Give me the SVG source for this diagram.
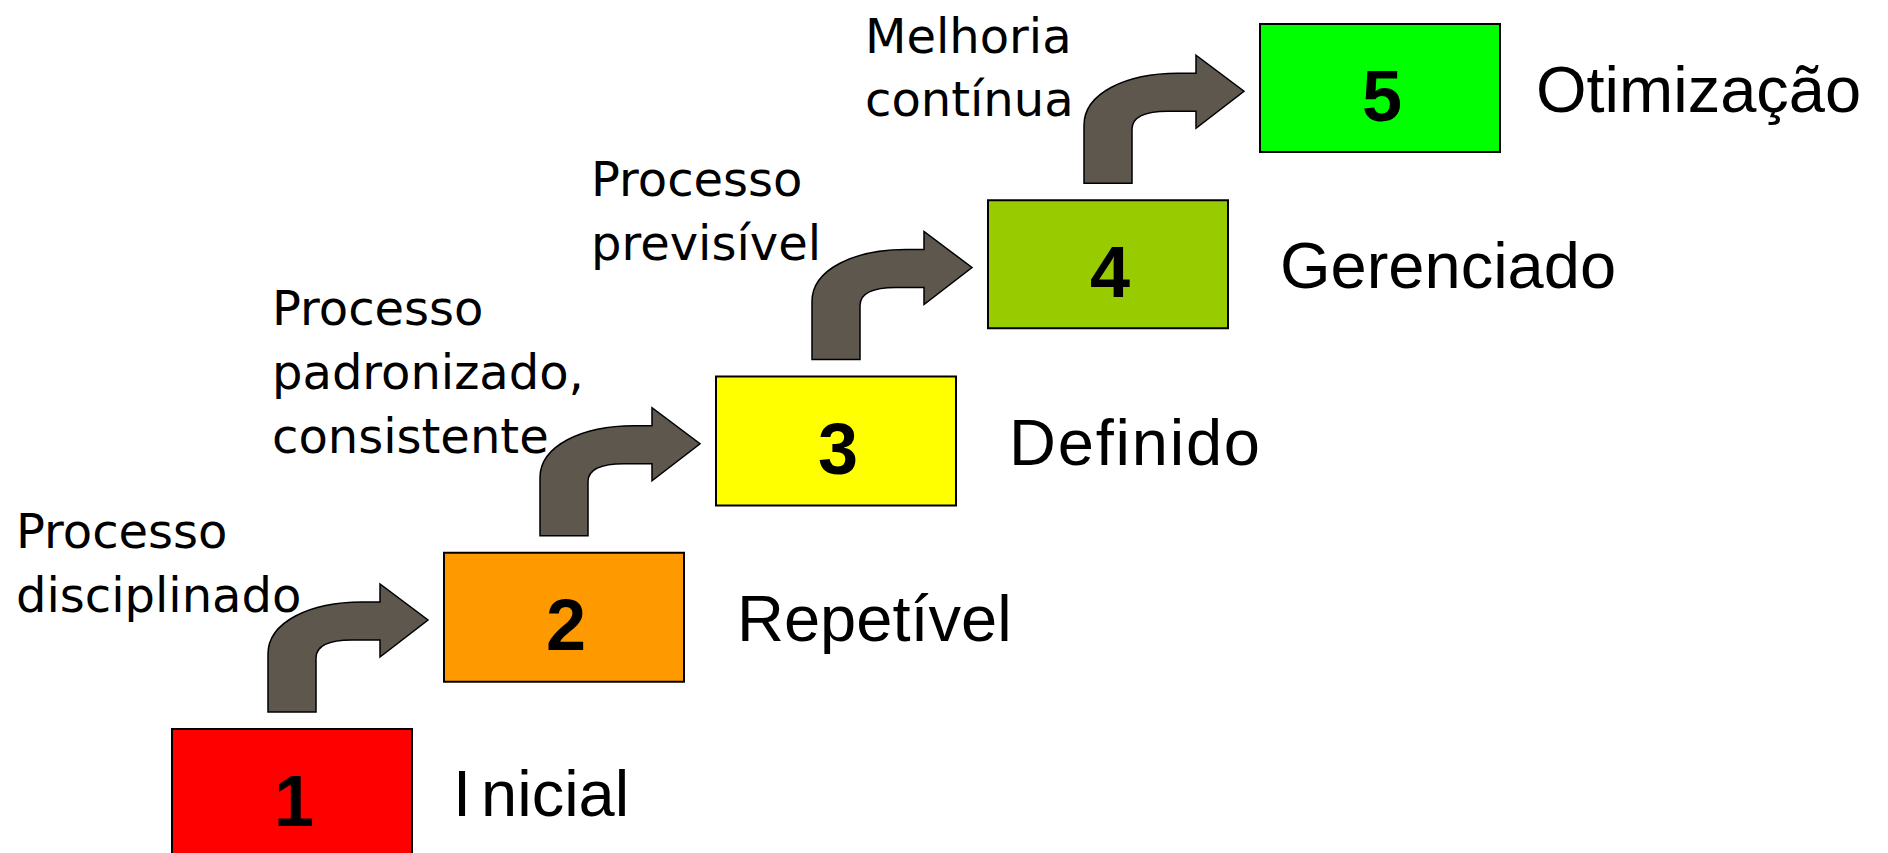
<svg xmlns="http://www.w3.org/2000/svg" xmlns:xlink="http://www.w3.org/1999/xlink" width="1888" height="853" viewBox="0 0 1888 853">
<style>
.box{stroke:#000;stroke-width:2}
.num{font-family:"Liberation Sans",Arial,sans-serif;font-weight:bold;font-size:72px;fill:#000;text-anchor:middle}
.lvl{font-family:"Liberation Sans",Arial,sans-serif;font-size:65px;fill:#000}
.note{font-family:"DejaVu Sans",Verdana,sans-serif;font-size:48px;fill:#000}
.arrow{fill:#5E574E;stroke:#000;stroke-width:1.5;stroke-linejoin:miter}
</style>
<defs>
<path id="arw" class="arrow" d="M 268 712 L 268 654 C 268 622 310 602 362 602 L 380 602 L 380 584 L 428 620 L 380 657 L 380 640 L 352 640 C 328 640 316 646 316 658 L 316 712 Z"/>
</defs>
<rect width="1888" height="853" fill="#fff"/>
<g id="connectors">
<use xlink:href="#arw" href="#arw"/>
<use xlink:href="#arw" href="#arw" transform="translate(272,-176.25)"/>
<use xlink:href="#arw" href="#arw" transform="translate(544,-352.5)"/>
<use xlink:href="#arw" href="#arw" transform="translate(816,-528.75)"/>
</g>
<g id="level1">
<rect class="box" x="172" y="729" width="240" height="129" fill="#FF0000"/>
<text class="num" x="294" y="826">1</text>
<text class="lvl" x="453" y="816">I<tspan dx="10">nicial</tspan></text>
</g>
<g id="level2">
<rect class="box" x="444" y="552.75" width="240" height="129" fill="#FF9900"/>
<text class="num" x="566" y="649.75">2</text>
<text class="lvl" x="737" y="641">Repetível</text>
</g>
<g id="level3">
<rect class="box" x="716" y="376.5" width="240" height="129" fill="#FFFF00"/>
<text class="num" x="838" y="473.5">3</text>
<text class="lvl" x="1009" y="465" textLength="251" lengthAdjust="spacing">Definido</text>
</g>
<g id="level4">
<rect class="box" x="988" y="200.25" width="240" height="128" fill="#99CC00"/>
<text class="num" x="1110" y="297.25">4</text>
<text class="lvl" x="1280" y="288">Gerenciado</text>
</g>
<g id="level5">
<rect class="box" x="1260" y="24" width="240" height="128" fill="#00FF00"/>
<text class="num" x="1382" y="121">5</text>
<text class="lvl" x="1536" y="112">Otimização</text>
</g>
<g id="note1">
<text class="note" x="16" y="548">Processo</text>
<text class="note" x="16" y="612">disciplinado</text>
</g>
<g id="note2">
<text class="note" x="272" y="325">Processo</text>
<text class="note" x="272" y="389">padronizado,</text>
<text class="note" x="272" y="453">consistente</text>
</g>
<g id="note3">
<text class="note" x="591" y="196">Processo</text>
<text class="note" x="591" y="260">previsível</text>
</g>
<g id="note4">
<text class="note" x="865" y="53">Melhoria</text>
<text class="note" x="865" y="116">contínua</text>
</g>
</svg>
